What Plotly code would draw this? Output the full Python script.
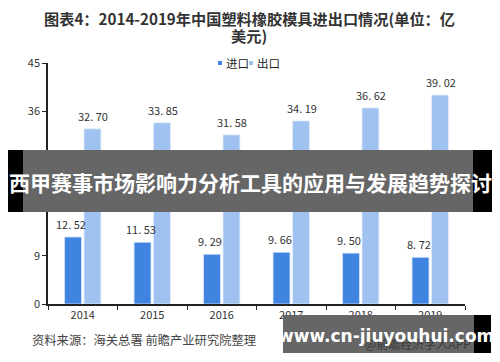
import plotly.graph_objects as go

years = ["2014", "2015", "2016", "2017", "2018", "2019"]
imports = [12.52, 11.53, 9.29, 9.66, 9.50, 8.72]
exports = [32.70, 33.85, 31.58, 34.19, 36.62, 39.02]
y_ticks = [0, 9, 18, 27, 36, 45]

OFF = 8  # page body margin
W, H = 500 - OFF, 362 - OFF
L, R, T, B = 48 - OFF, 465 - OFF, 63 - OFF, 304 - OFF

def px(x):
    return (x - OFF - L) / (R - L)

def py(y):
    return (B - (y - OFF)) / (B - T)

FONT = "Noto Sans CJK SC, Noto Sans, sans-serif"
C_IMP = "#3f84e0"
C_EXP = "#9fc2f0"

fig = go.Figure()
fig.add_trace(go.Bar(name="进口", x=years, y=imports, showlegend=False,
                     marker=dict(color=C_IMP, line=dict(color="#d8e6f8", width=0.8))))
fig.add_trace(go.Bar(name="出口", x=years, y=exports, showlegend=False,
                     marker=dict(color=C_EXP, line=dict(color="#e4eefb", width=0.8))))

annotations = []
for i, v in enumerate(imports):
    annotations.append(dict(x=i - 0.165, y=v, xref="x", yref="y", text=f"{v:.2f}".replace(".", ". "),
                            showarrow=False, yshift=13, font=dict(size=11, color="#333", family=FONT)))
for i, v in enumerate(exports):
    annotations.append(dict(x=i + 0.15, y=v, xref="x", yref="y", text=f"{v:.2f}".replace(".", ". "),
                            showarrow=False, yshift=13, font=dict(size=11, color="#333", family=FONT)))

# title
annotations.append(dict(x=px(249), y=py(18), xref="paper", yref="paper", xanchor="center", yanchor="middle",
                        text="<b>图表4：2014-2019年中国塑料橡胶模具进出口情况(单位：亿</b>", showarrow=False,
                        font=dict(size=15.2, color="#333", family=FONT)))
annotations.append(dict(x=px(249), y=py(35), xref="paper", yref="paper", xanchor="center", yanchor="middle",
                        text="<b>美元)</b>", showarrow=False,
                        font=dict(size=15.2, color="#333", family=FONT)))
# legend
annotations.append(dict(x=px(224), y=py(63), xref="paper", yref="paper", xanchor="left", yanchor="middle",
                        text="进口", showarrow=False, font=dict(size=11.5, color="#222", family=FONT)))
annotations.append(dict(x=px(255), y=py(63), xref="paper", yref="paper", xanchor="left", yanchor="middle",
                        text="出口", showarrow=False, font=dict(size=11.5, color="#222", family=FONT)))

annotations.append(dict(x=px(30), y=py(340), xref="paper", yref="paper", xanchor="left", yanchor="middle",
                        text="资料来源：海关总署 前瞻产业研究院整理", showarrow=False,
                        font=dict(size=12.3, color="#444", family=FONT)))
annotations.append(dict(x=px(473), y=py(343), xref="paper", yref="paper", xanchor="right", yanchor="middle",
                        text="@前瞻经济学人APP", showarrow=False,
                        font=dict(size=12, color="#3a3a3a", family=FONT)))
annotations.append(dict(x=px(250), y=py(182), xref="paper", yref="paper", xanchor="center", yanchor="middle",
                        text="<b>西甲赛事市场影响力分析工具的应用与发展趋势探讨</b>", showarrow=False,
                        font=dict(size=21, color="white", family=FONT)))
annotations.append(dict(x=px(386), y=py(336), xref="paper", yref="paper", xanchor="center", yanchor="middle",
                        text="<b>www.cn-jiuyouhui.com</b>", showarrow=False,
                        font=dict(size=17, color="white", family="DejaVu Sans, sans-serif")))

shapes = [
    dict(type="rect", xref="paper", yref="paper", x0=px(218), x1=px(222), y0=py(65), y1=py(61),
         fillcolor=C_IMP, line=dict(width=0)),
    dict(type="rect", xref="paper", yref="paper", x0=px(249), x1=px(253), y0=py(65), y1=py(61),
         fillcolor=C_EXP, line=dict(width=0)),
    dict(type="rect", xref="paper", yref="paper", x0=px(8), x1=px(492), y0=py(212), y1=py(150),
         fillcolor="black", line=dict(width=0), layer="above"),
    dict(type="rect", xref="paper", yref="paper", x0=px(23), x1=px(473), y0=py(212), y1=py(150),
         fillcolor="rgba(255,255,255,0.4)", line=dict(width=0), layer="above"),
    dict(type="rect", xref="paper", yref="paper", x0=px(283), x1=px(491), y0=py(353), y1=py(315),
         fillcolor="black", line=dict(width=0), layer="above"),
    dict(type="rect", xref="paper", yref="paper", x0=px(283), x1=px(474), y0=py(353), y1=py(315),
         fillcolor="rgba(255,255,255,0.4)", line=dict(width=0), layer="above"),
]

fig.update_layout(
    width=W, height=H,
    margin=dict(l=L, r=W - R, t=T, b=H - B, autoexpand=False),
    paper_bgcolor="white", plot_bgcolor="white",
    barmode="group", bargap=0.44, bargroupgap=0.13,
    showlegend=False,
    xaxis=dict(type="category", showline=True, linecolor="#222", linewidth=1.5, ticks="outside",
               tickson="boundaries", ticklen=4, tickcolor="#222", showgrid=False,
               tickfont=dict(size=11, color="#333", family=FONT)),
    yaxis=dict(range=[0, 45], tickvals=y_ticks, showline=True, linecolor="#222", linewidth=1.5,
               ticks="outside", ticklen=4, tickcolor="#222", showgrid=False, zeroline=False,
               tickfont=dict(size=11, color="#333", family=FONT)),
    annotations=annotations,
    shapes=shapes,
)

fig.write_html("out.html")
